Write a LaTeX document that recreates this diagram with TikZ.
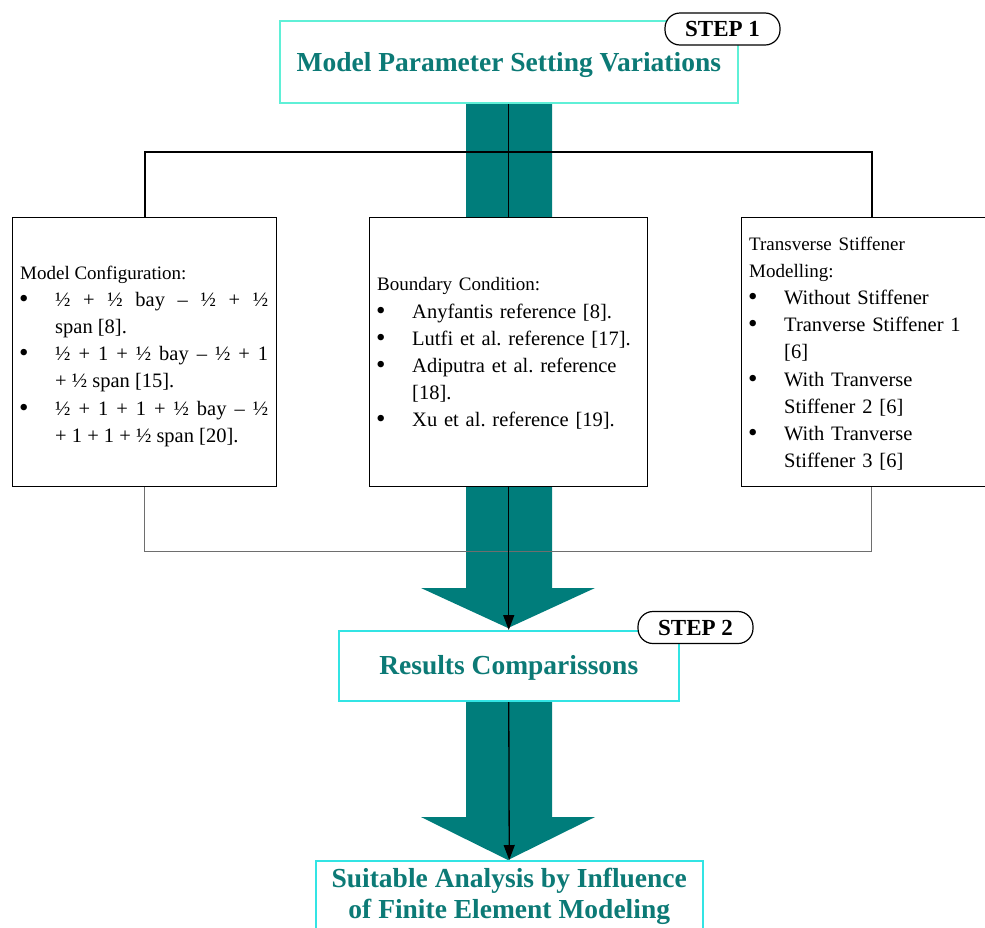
\documentclass[tikz,border=0pt]{standalone}
\usepackage{fontspec}
\setmainfont{Liberation Serif}
\usetikzlibrary{arrows.meta,backgrounds}
\frenchspacing
\definecolor{tealfill}{RGB}{0,125,123}
\definecolor{titleteal}{RGB}{12,122,118}
\definecolor{aquab}{RGB}{95,240,215}
\definecolor{cyanb}{RGB}{50,228,228}
\definecolor{linegray}{RGB}{110,110,110}
\newcommand\bitem{\par\noindent\hangindent=35pt\hangafter=1\makebox[35pt][l]{\hspace{-1pt}\raisebox{-1pt}{\fontsize{27}{27}\selectfont\textbullet}}}
\newcommand\hdfont{\fontsize{19}{27.2}\selectfont}
\newcommand\itfont{\fontsize{20.5}{27.2}\selectfont}
\newcommand\lowered[2]{\raisebox{-#1}[\height][\depth]{#2}}
\tikzset{
  titlebox/.style={draw=#1, line width=1.5pt, fill=white, inner sep=0pt,
    font=\fontsize{27.5}{31}\selectfont\bfseries, text=titleteal, anchor=north west, align=center},
  stepbox/.style={draw=black, line width=1.2pt, fill=white, rounded corners=15pt,
    font=\fontsize{23}{26}\selectfont\bfseries, inner sep=0pt, minimum width=115pt, minimum height=32pt},
  listbox/.style={draw=black, line width=1.3pt, fill=white, inner sep=0pt, anchor=north west,
    minimum height=269pt},
  listtext/.style={anchor=north west, inner sep=0pt, font=\itfont},
  conn/.style={draw=black, line width=1.8pt},
  lowconn/.style={draw=linegray, line width=1pt},
  flowarrow/.style={draw=black, line width=1.3pt, -{Triangle[width=11pt,length=15pt]}}
}
\begin{document}
\begin{tikzpicture}[x=1pt,y=-1pt]
\path[use as bounding box] (0,0) rectangle (985,927);
\clip (0,0) rectangle (985,927);

% main boxes
\node[titlebox=aquab, minimum width=458pt, minimum height=82pt] (top) at (279,20) {\lowered{3.5pt}{Model Parameter Setting Variations}};
\node[stepbox] (step1) at (722.5,29) {STEP 1};

\node[listbox, minimum width=264pt] (lbox) at (12,217) {};
\node[listbox, minimum width=278pt] (mbox) at (369,217) {};
\node[listbox, minimum width=260pt] (rbox) at (741,217) {};

\node[listtext, text width=248pt, align=justify] (ltext) at (20,265.5) {\tolerance=10000\frenchspacing
  \noindent{\hdfont Model Configuration:}\par\itfont
  \bitem ½ + ½ bay – ½ + ½\linebreak span [8].
  \bitem ½ + 1 + ½ bay – ½ + 1\linebreak + ½ span [15].
  \bitem ½ + 1 + 1 + ½ bay – ½\linebreak + 1 + 1 + ½ span [20].\par};

\node[listtext, text width=263pt, align=left] (mtext) at (377,277.5) {\frenchspacing
  {\hdfont Boundary Condition:}\par\itfont
  \bitem Anyfantis reference [8].
  \bitem Lutfi et al. reference [17].
  \bitem Adiputra et al. reference\linebreak{}[18].
  \bitem Xu et al. reference [19].\par};

\node[listtext, text width=232pt, align=left] (rtext) at (749,236.5) {%
  {\hdfont Transverse Stiffener\\{}Modelling:}\par\itfont
  \bitem Without Stiffener
  \bitem Tranverse Stiffener 1\linebreak{}[6]
  \bitem With Tranverse\linebreak{}Stiffener 2 [6]
  \bitem With Tranverse\linebreak{}Stiffener 3 [6]\par};

\node[titlebox=cyanb, minimum width=340pt, minimum height=70pt] (res) at (338,630) {\lowered{2.5pt}{Results Comparissons}};
\node[stepbox] (step2) at (695.5,627.5) {STEP 2};

\node[titlebox=cyanb, minimum width=387pt, minimum height=72pt] (fin) at (315,860) {Suitable Analysis by Influence\\of Finite Element Modeling};

\coordinate (hj) at (508,152);
\coordinate (bj) at (508,551);

\begin{scope}[on background layer]
  \fill[tealfill] (466,102) -- (552,102) -- (552,588) -- (595,588) -- (508,628) -- (421,588) -- (466,588) -- cycle;
  \fill[tealfill] (466,700) -- (552,700) -- (552,817) -- (595,817) -- (508,860) -- (421,817) -- (466,817) -- cycle;
  \draw[conn] (lbox.north) |- (hj) -| (rbox.north);
  \draw[lowconn] (lbox.south) |- (bj) -| (rbox.south);
  \draw[flowarrow] (top.south) -- (res.north);
  \draw[flowarrow] (res.south) -- (fin.north);
\end{scope}
\end{tikzpicture}
\end{document}
